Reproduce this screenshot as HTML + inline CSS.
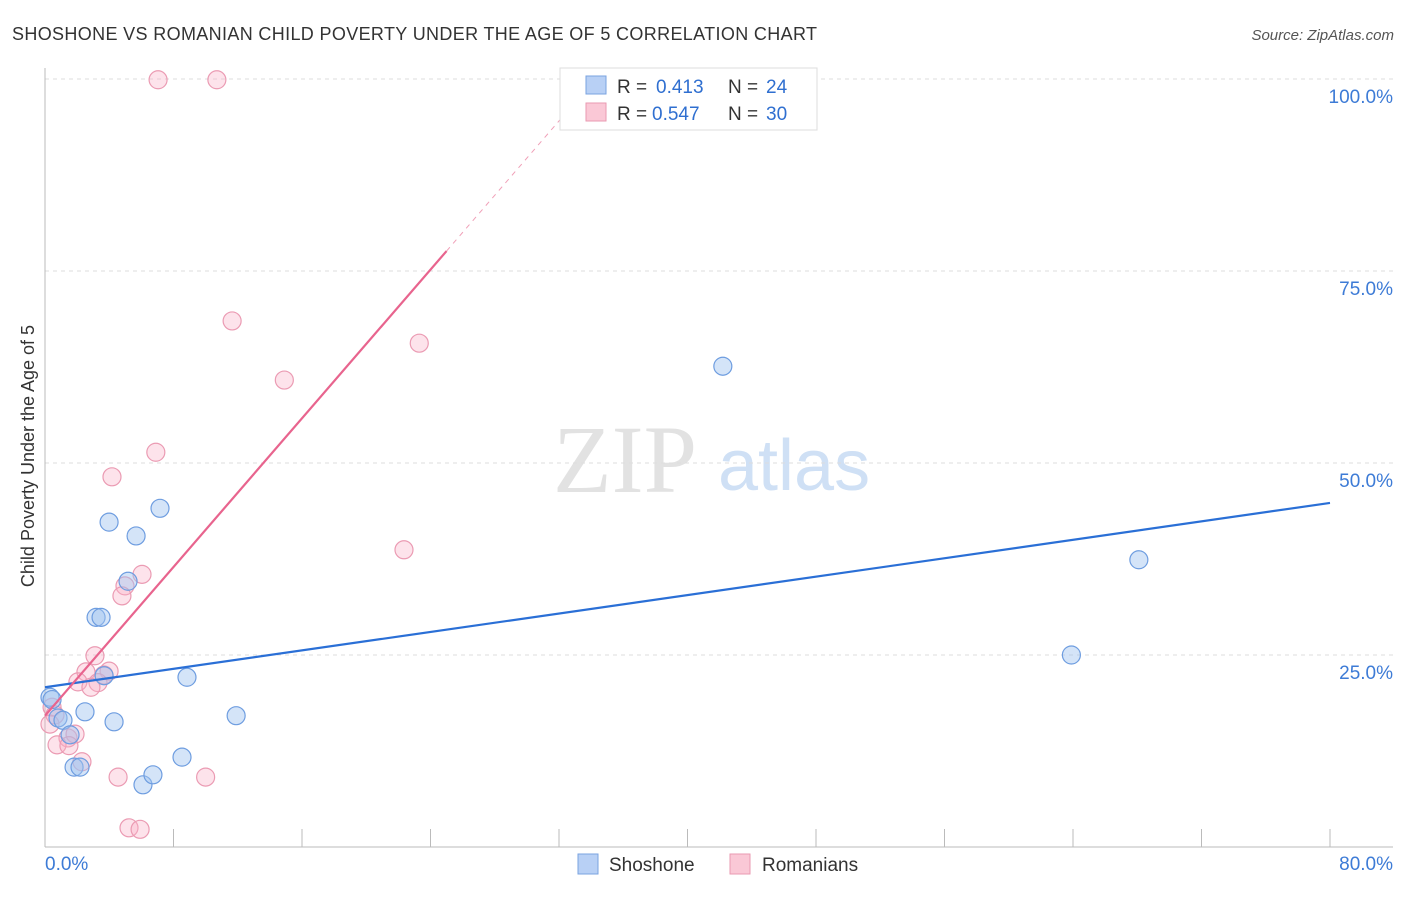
<!DOCTYPE html>
<html><head><meta charset="utf-8"><style>
body{margin:0;background:#fff;font-family:"Liberation Sans",sans-serif}
</style></head><body>
<svg width="1406" height="892" xmlns="http://www.w3.org/2000/svg" font-family="Liberation Sans, sans-serif">
<text x="12" y="40" font-size="18" fill="#333" textLength="805">SHOSHONE VS ROMANIAN CHILD POVERTY UNDER THE AGE OF 5 CORRELATION CHART</text>
<text x="1394" y="40" font-size="15" fill="#555" font-style="italic" text-anchor="end">Source: ZipAtlas.com</text>
<text x="0" y="0" transform="translate(34,456) rotate(-90)" font-size="18" fill="#333" text-anchor="middle">Child Poverty Under the Age of 5</text>
<g><text x="553" y="492" font-size="96" font-family="Liberation Serif, serif" fill="#e2e2e2">ZIP</text><text x="718" y="490" font-size="72" fill="#cfe0f5">atlas</text></g>
<g id="grid"></g><g id="axes"></g><g id="marks"></g>
<g>
<rect x="560" y="68" width="257" height="62" fill="#fff" stroke="#ddd"/>
<rect x="586" y="76" width="20" height="18" fill="#b8d0f5" stroke="#7aa3e0"/>
<rect x="586" y="103" width="20" height="18" fill="#fac8d6" stroke="#e99ab1"/>
<text y="93" font-size="19" fill="#333"><tspan x="617">R =</tspan><tspan x="656" fill="#2f6fd0">0.413</tspan><tspan x="728">N =</tspan><tspan x="766" fill="#2f6fd0">24</tspan></text>
<text y="120" font-size="19" fill="#333"><tspan x="617">R =</tspan><tspan x="652" fill="#2f6fd0">0.547</tspan><tspan x="728">N =</tspan><tspan x="766" fill="#2f6fd0">30</tspan></text>
</g>
<g>
<rect x="578" y="854" width="20" height="20" fill="#b8d0f5" stroke="#7aa3e0"/>
<text x="609" y="871" font-size="19" fill="#333">Shoshone</text>
<rect x="730" y="854" width="20" height="20" fill="#fac8d6" stroke="#e99ab1"/>
<text x="762" y="871" font-size="19" fill="#333">Romanians</text>
</g>
</svg>
<script>
const xTicks=[0,8,16,24,32,40,48,56,64,72,80];
const yTicks=[25,50,75,100];
const yTickLabels=["25.0%","50.0%","75.0%","100.0%"];
const shoX=[0.31,0.44,0.81,1.12,1.56,1.81,2.18,2.49,3.18,3.49,3.68,3.99,4.30,5.17,5.67,6.10,6.72,7.16,8.53,8.84,11.9,42.2,63.9,68.1];
const shoY=[19.5,19.2,16.8,16.5,14.6,10.4,10.4,17.6,29.9,29.9,22.3,42.3,16.3,34.6,40.5,8.1,9.4,44.1,11.7,22.1,17.1,62.6,25.0,37.4];
const romX=[7.04,10.7,11.65,14.9,23.3,6.9,4.17,22.35,6.04,4.98,4.79,3.11,2.55,3.99,3.67,2.05,3.30,2.86,0.44,0.62,0.31,1.43,1.87,0.75,1.49,2.30,4.55,10.0,5.23,5.92];
const romY=[99.9,99.9,68.5,60.8,65.6,51.4,48.2,38.7,35.5,34.0,32.7,24.9,22.8,22.9,22.4,21.5,21.4,20.8,18.2,17.2,16.0,14.2,14.7,13.3,13.2,11.1,9.1,9.1,2.5,2.3];
const shoLine=[20.8,44.8]; // y at x=0 and x=80
const romLine=[17.1,2.42]; // intercept, slope
const NS="http://www.w3.org/2000/svg";
const X=v=>45+v*1285/80, Y=v=>847-v*7.68;
function mk(t,a,p){const e=document.createElementNS(NS,t);for(const k in a)e.setAttribute(k,a[k]);document.getElementById(p).appendChild(e);return e;}
yTicks.forEach((t,i)=>{
 const g=mk('line',{x1:45,x2:1393,y1:Y(t),y2:Y(t),stroke:'#ddd','stroke-dasharray':'4,4'},'grid');
 
 
 const l=mk('text',{x:1393,y:Y(t)+24,'font-size':19,fill:'#3d7bd6','text-anchor':'end'},'axes');l.textContent=yTickLabels[i];
 
 
});
mk('line',{x1:45,x2:45,y1:68,y2:847,stroke:'#bbb'},'axes');
mk('line',{x1:45,x2:1393,y1:847,y2:847,stroke:'#bbb'},'axes');
xTicks.forEach(v=>{const t=mk('line',{x1:X(v),x2:X(v),y1:829,y2:847,stroke:'#bbb'},'axes');
 
 });
let a=mk('text',{x:45,y:870,'font-size':19,fill:'#3d7bd6'},'axes');a.textContent='0.0%';


a=mk('text',{x:1393,y:870,'font-size':19,fill:'#3d7bd6','text-anchor':'end'},'axes');a.textContent='80.0%';


romX.forEach((x,i)=>{const c=mk('circle',{cx:X(x),cy:Y(romY[i]),r:9,fill:'rgba(248,175,198,0.35)',stroke:'#eb9bb3','stroke-width':1.2},'marks');
 
 });
shoX.forEach((x,i)=>{const c=mk('circle',{cx:X(x),cy:Y(shoY[i]),r:9,fill:'rgba(160,195,240,0.45)',stroke:'#6e9de0','stroke-width':1.2},'marks');
 
 });
let ln=mk('line',{x1:X(0),y1:Y(shoLine[0]),x2:X(80),y2:Y(shoLine[1]),stroke:'#2a6fd6','stroke-width':2.2},'marks');


const xs=25,xe=(100-romLine[0])/romLine[1];
ln=mk('line',{x1:X(0),y1:Y(romLine[0]),x2:X(xs),y2:Y(romLine[0]+romLine[1]*xs),stroke:'#e8648e','stroke-width':2.2},'marks');


ln=mk('line',{x1:X(xs),y1:Y(romLine[0]+romLine[1]*xs),x2:X(xe),y2:Y(100),stroke:'#f0a0b8','stroke-width':1,'stroke-dasharray':'5,5'},'marks');


</script>
</body></html>
